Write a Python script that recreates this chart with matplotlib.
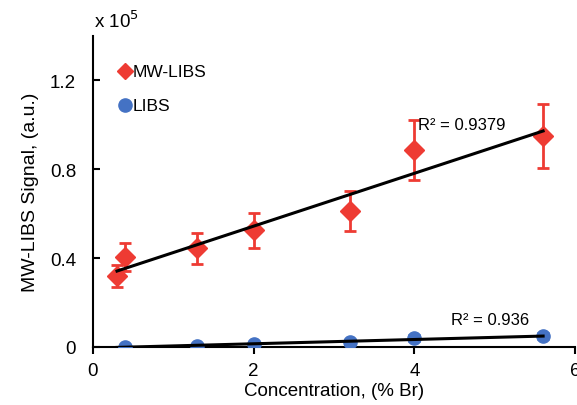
import numpy as np
import matplotlib
matplotlib.use("Agg")
import matplotlib.pyplot as plt

plt.rcParams['font.family'] = ['Liberation Sans', 'DejaVu Sans']

# concentration (% Br)
conc_mw = [0.3, 0.4, 1.3, 2.0, 3.2, 4.0, 5.6]
signal_mw = [0.32, 0.405, 0.445, 0.525, 0.61, 0.885, 0.95]
err_mw = [0.05, 0.065, 0.07, 0.08, 0.09, 0.135, 0.145]

conc_libs = [0.4, 1.3, 2.0, 3.2, 4.0, 5.6]
signal_libs = [0.001, 0.006, 0.014, 0.02, 0.04, 0.048]
err_libs = [0.003, 0.004, 0.005, 0.006, 0.012, 0.014]

red = '#EE3B33'
blue = '#4472C4'

fig = plt.figure(figsize=(5.77, 4.06), dpi=100)
ax = fig.add_axes([0.161, 0.143, 0.836, 0.766])

ax.errorbar(conc_mw, signal_mw, yerr=err_mw, fmt='D', color=red, ms=10,
            ecolor=red, elinewidth=2, capsize=4, capthick=2, zorder=3)
ax.errorbar(conc_libs, signal_libs, yerr=err_libs, fmt='o', color=blue, ms=9.5,
            ecolor=blue, elinewidth=2, capsize=4, capthick=2, zorder=3)

# linear trendlines (both drawn from the lowest concentration)
x0 = min(conc_mw)
for xs, ys in ((conc_mw, signal_mw), (conc_libs, signal_libs)):
    p = np.polyfit(xs, ys, 1)
    xx = np.array([x0, max(xs)])
    ax.plot(xx, np.polyval(p, xx), color='black', lw=2.2, zorder=4)

ax.text(4.05, 1.0, 'R² = 0.9379', fontsize=12, va='center', ha='left')
ax.text(4.45, 0.125, 'R² = 0.936', fontsize=12, va='center', ha='left')

# legend drawn in the plot
ax.plot([0.4], [1.24], 'D', color=red, ms=8, clip_on=False)
ax.text(0.5, 1.24, 'MW-LIBS', fontsize=12.5, va='center')
ax.plot([0.4], [1.088], 'o', color=blue, ms=9.5, clip_on=False)
ax.text(0.5, 1.088, 'LIBS', fontsize=12.5, va='center')

ax.set_xlim(0, 6)
ax.set_ylim(0, 1.4)
ax.set_xticks([0, 2, 4, 6])
ax.set_yticks([0, 0.4, 0.8, 1.2])
ax.set_yticklabels(['0', '0.4', '0.8', '1.2'])
ax.tick_params(axis='y', direction='in', length=5, width=1.5, labelsize=13.5, pad=12)
ax.tick_params(axis='x', direction='out', length=5, width=1.5, labelsize=13.5, pad=6)

for s in ('top', 'right'):
    ax.spines[s].set_visible(False)
for s in ('left', 'bottom'):
    ax.spines[s].set_linewidth(1.5)

ax.set_xlabel('Concentration, (% Br)', fontsize=13.5, labelpad=2)
ax.set_ylabel('MW-LIBS Signal, (a.u.)', fontsize=14, labelpad=8)
fig.text(0.163, 0.947, r'x 10$^{5}$', fontsize=13.5, ha='left', va='center')

fig.savefig('out.png', dpi=100)
